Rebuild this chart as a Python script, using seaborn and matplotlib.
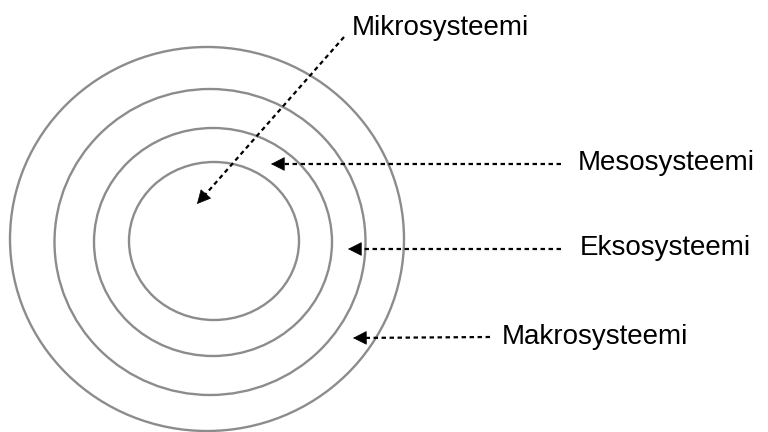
import matplotlib
matplotlib.use("Agg")
import matplotlib.pyplot as plt
from matplotlib.patches import Ellipse
import seaborn as sns

# renkaat (pikselikoordinaatit, keskipiste ja halkaisijat)
ring_cx = [207, 210, 213, 214]
ring_cy = [239, 242, 242, 241]
ring_w = [394, 311, 238, 170]
ring_h = [384, 306, 228, 158]

# nuolet: häntä -> kärki
labels = ["Mikrosysteemi", "Mesosysteemi", "Eksosysteemi", "Makrosysteemi"]
tail_x = [344, 561, 561, 490]
tail_y = [37, 164, 249, 337]
tip_x = [197, 271, 348, 353]
tip_y = [204, 164, 249, 338]
label_x = [352, 578, 580, 502]
label_y = [28, 163, 248, 337]

sns.set_theme(style="white")
plt.rcParams['font.family'] = ['Liberation Sans', 'DejaVu Sans']

fig = plt.figure(figsize=(7.68, 4.32), dpi=100)
ax = fig.add_axes([0, 0, 1, 1])
ax.set_xlim(0, 768)
ax.set_ylim(432, 0)
ax.axis("off")

for cx, cy, w, h in zip(ring_cx, ring_cy, ring_w, ring_h):
    ax.add_patch(Ellipse((cx, cy), w, h, fill=False, edgecolor="#8c8c8e", lw=1.7))

for tx, ty, px, py, lab, lx, ly in zip(tail_x, tail_y, tip_x, tip_y, labels, label_x, label_y):
    dx, dy = px - tx, py - ty
    n = (dx ** 2 + dy ** 2) ** 0.5
    ux, uy = dx / n, dy / n
    # pisteviiva, loppuu ennen kärkeä
    ax.plot([tx, px - ux * 9], [ty, py - uy * 9], color="black", lw=1.6,
            linestyle=(0, (2.0, 1.6)), solid_capstyle="butt")
    ax.annotate("", xy=(px, py), xytext=(px - ux * 12, py - uy * 12),
                arrowprops=dict(arrowstyle="-|>,head_length=0.75,head_width=0.38",
                                color="black", lw=0.5, shrinkA=0, shrinkB=0))
    ax.text(lx, ly, lab, fontsize=20, color="black", ha="left", va="center")

fig.savefig("out.png", dpi=100)
